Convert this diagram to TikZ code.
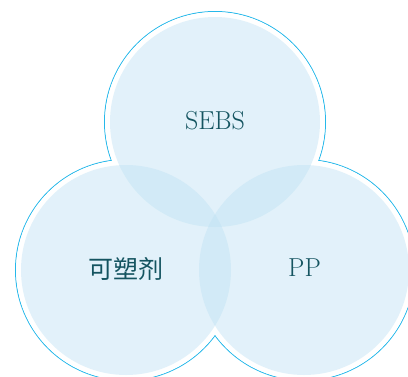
\documentclass[tikz,border=0pt]{standalone}
\usepackage{fontspec}
\newfontfamily\cjkfont{Noto Sans CJK SC}
\definecolor{ringcol}{RGB}{38,184,234}
\definecolor{fillcol}{RGB}{191,226,244}
\definecolor{textcol}{RGB}{20,84,96}
\tikzset{
  ring/.style={draw=ringcol, line width=1pt},
  mask/.style={fill=white},
  disc/.style={fill=fillcol, fill opacity=0.45},
  lbl/.style={text=textcol, font=\fontsize{26}{30}\selectfont},
  cjklbl/.style={text=textcol, font=\cjkfont\fontsize{25}{30}\selectfont}
}
\begin{document}
\begin{tikzpicture}[x=1pt,y=-1pt]
\useasboundingbox (0,0) rectangle (408,376);
\coordinate (ct) at (215,122);
\coordinate (cl) at (126,270);
\coordinate (cr) at (304,270);
\foreach \c in {ct,cl,cr} \draw[ring] (\c) circle[radius=110.5];
\foreach \c in {ct,cl,cr} \fill[mask] (\c) circle[radius=110];
\foreach \c in {ct,cl,cr} \fill[disc] (\c) circle[radius=105];
\node[lbl] (sebs) at (215,121) {SEBS};
\node[cjklbl] (plast) at (126,269) {可塑剂};
\node[lbl] (pp) at (304.5,268) {PP};
\end{tikzpicture}
\end{document}
